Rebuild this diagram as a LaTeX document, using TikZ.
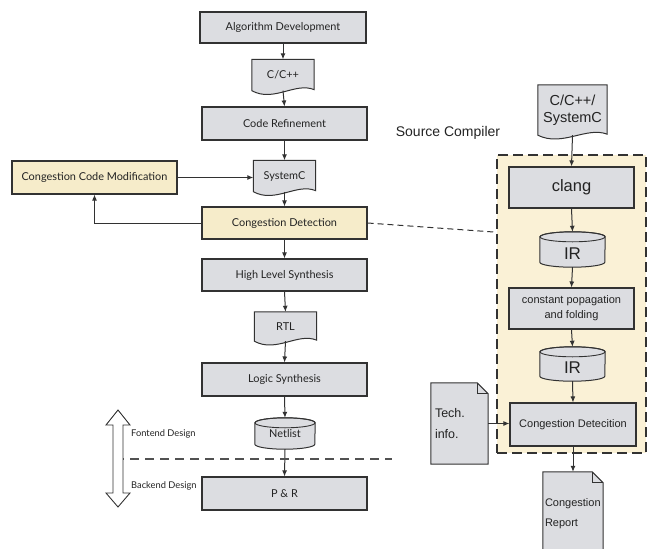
\documentclass[tikz,border=0pt]{standalone}
\usepackage{fontspec}
\setmainfont{Liberation Sans}
\newfontfamily\flowfont{Lato}
\usetikzlibrary{arrows.meta,backgrounds,calc}

\definecolor{boxgrey}{RGB}{220,221,225}
\definecolor{boxyellow}{RGB}{246,236,202}
\definecolor{regionfill}{RGB}{250,241,214}
\definecolor{linecol}{RGB}{50,50,50}
\definecolor{textcol}{RGB}{35,35,35}

% document symbol with a wavy lower edge, drawn round the text node #1
\newcommand{\wavedoc}[1]{%
  \path[docline] (#1.north west) -- (#1.north east) -- ($(#1.south east)+(0pt,1pt)$)
    .. controls ($(#1.south east)!0.3!(#1.south west)+(0pt,9pt)$)
       and ($(#1.south east)!0.65!(#1.south west)+(0pt,-12pt)$) ..
    ($(#1.south west)+(0pt,0pt)$) -- cycle;}
% document symbol with a folded corner
\newcommand{\folddoc}[2]{%
  \path[docline] (#1.north west) -- ($(#1.north east)+(-#2,0pt)$) -- ($(#1.north east)+(0pt,-#2)$)
    -- (#1.south east) -- (#1.south west) -- cycle;
  \draw[linecol, line width=0.9pt] ($(#1.north east)+(-#2,0pt)$) -- ($(#1.north east)+(-#2,-#2)$)
    -- ($(#1.north east)+(0pt,-#2)$);}
% cylinder (data store) round the text node #1; #2 = half width, #3 = cap radius
\newcommand{\drum}[3]{%
  \path[docline] ($(#1.north west)+(0pt,-#3)$) -- ($(#1.south west)+(0pt,#3)$)
    arc[start angle=180, end angle=360, x radius=#2, y radius=#3]
    -- ($(#1.north east)+(0pt,-#3)$)
    arc[start angle=0, end angle=180, x radius=#2, y radius=#3] -- cycle;
  \draw[linecol, line width=0.9pt] ($(#1.north)+(0pt,-#3)$) ellipse[x radius=#2, y radius=#3];}

\begin{document}
\begin{tikzpicture}[x=1pt, y=-1pt,
  every node/.style={text=textcol},
  flowbox/.style={draw=linecol, line width=1.1pt, fill=boxgrey, minimum width=165pt,
    minimum height=32pt, inner sep=0pt, font=\flowfont\fontsize{10.9}{12}\selectfont},
  hotbox/.style={flowbox, fill=boxyellow},
  flowdoc/.style={minimum width=62pt, minimum height=31pt, inner sep=0pt,
    font=\flowfont\fontsize{10.9}{12}\selectfont},
  flowdrum/.style={minimum width=60pt, minimum height=31pt, inner sep=0pt,
    font=\flowfont\fontsize{10.9}{12}\selectfont},
  stepbox/.style={draw=linecol, line width=1.1pt, fill=boxgrey, minimum width=125pt,
    minimum height=41pt, inner sep=0pt, align=center},
  drumtext/.style={minimum width=65pt, inner sep=0pt, text depth=0pt,
    font=\fontsize{17}{19}\selectfont},
  docline/.style={draw=linecol, line width=1pt, fill=boxgrey},
  arr/.style={draw=linecol, line width=1pt, -{Latex[length=6pt,width=5pt]}},
  sidelabel/.style={font=\flowfont\fontsize{9.3}{11}\selectfont, anchor=west, inner sep=0pt}]

\useasboundingbox (0,0) rectangle (649,549);

% ---- design flow (left column) ----
\node[flowbox, minimum width=166pt, minimum height=31pt] (alg) at (283,27.5) {Algorithm Development};
\node[flowdoc] (cpp) at (283,75) {C/C++};
\node[flowbox, minimum height=33pt] (cref) at (284.5,123.5) {Code Refinement};
\node[flowdoc] (sysc) at (284.5,176) {SystemC};
\node[hotbox, minimum height=33pt] (ccm) at (94.5,177.5) {Congestion Code Modification};
\node[hotbox] (cdet) at (284.5,223) {Congestion Detection};
\node[flowbox] (hls) at (284.5,275) {High Level Synthesis};
\node[flowdoc, minimum height=29pt] (rtl) at (285.5,326.5) {RTL};
\node[flowbox, minimum height=33pt] (ls) at (284.5,379.5) {Logic Synthesis};
\node[flowdrum] (net) at (285,433.5) {Netlist};
\node[flowbox, minimum height=33pt] (pr) at (284.5,493.5) {P \& R};

\draw[arr] (alg.south) -- (cpp.north);
\draw[arr] (cpp.south) -- (cref.north);
\draw[arr] (cref.south) -- (sysc.north);
\draw[arr] (sysc.south) -- (cdet.north);
\draw[arr] (cdet.south) -- (hls.north);
\draw[arr] (hls.south) -- (rtl.north);
\draw[arr] (rtl.south) -- (ls.north);
\draw[arr] (ls.south) -- (net.north);
\draw[arr] (net.south) -- (pr.north);
\draw[arr] (ccm.east) -- (ccm.east -| sysc.west);
\draw[arr] (cdet.west) -| (ccm.south);

% frontend / backend split
\coordinate (splitL) at (115,459);
\coordinate (splitR) at (392,459);
\draw[linecol!85, line width=1.1pt, dash pattern=on 9pt off 6pt] (splitL) -- (splitR);
\path[draw=linecol, line width=0.9pt, fill=white]
  (118,410) -- (130,425) -- (123,425) -- (123,493) -- (130,493) -- (118,507)
  -- (106,493) -- (113,493) -- (113,425) -- (106,425) -- cycle;
\node[sidelabel] (fe) at (131,434) {Fontend Design};
\node[sidelabel] (be) at (131,486) {Backend Design};

% ---- source compiler (right) ----
\node[font=\fontsize{14}{16}\selectfont] (sctitle) at (448,133) {Source Compiler};
\node[minimum width=69pt, minimum height=50pt, inner sep=0pt, align=center,
  font=\fontsize{14.5}{17}\selectfont] (src) at (572.5,110) {C/C++/\\SystemC};
\node[stepbox, font=\fontsize{16.5}{18}\selectfont] (clang) at (571.5,187.5) {clang};
\node[drumtext, minimum height=35pt, text height=19pt] (ir1) at (572.5,249.5) {IR};
\node[stepbox, font=\fontsize{11}{15}\selectfont] (cpf) at (571.5,308.5) {constant popagation\\and folding};
\node[drumtext, minimum height=34pt, text height=19pt] (ir2) at (572.5,364) {IR};
\node[stepbox, minimum width=126pt, minimum height=43pt, font=\fontsize{11}{13}\selectfont] (cdr) at (573,424.5) {Congestion Detecition};
\node[minimum width=57pt, minimum height=81pt, inner sep=0pt, align=left,
  font=\fontsize{12.5}{21}\selectfont, text width=49pt] (tech) at (459.5,423.5) {Tech.\\info.};
\node[minimum width=60pt, minimum height=84pt, inner sep=0pt, align=left,
  font=\fontsize{11}{20}\selectfont, text width=56pt] (rep) at (573,514) {Congestion\\Report};

\draw[arr] (src.south) -- (clang.north);
\draw[arr] (clang.south) -- (ir1.north);
\draw[arr] (ir1.south) -- (cpf.north);
\draw[arr] (cpf.south) -- (ir2.north);
\draw[arr] (ir2.south) -- (cdr.north);
\draw[arr] (tech.east) -- (tech.east -| cdr.west);
\draw[arr] (cdr.south) -- (rep.north);

\begin{scope}[on background layer]
  \node[draw=linecol, fill=regionfill, line width=1.2pt, dash pattern=on 10pt off 5pt,
    minimum width=149pt, minimum height=298pt, inner sep=0pt] (region) at (571.5,304) {};
  \coordinate (regionin) at ($(region.north west)!0.26!(region.south west)$);
  \draw[linecol, line width=1pt, dash pattern=on 6pt off 4pt] (cdet.east) -- (regionin);
  \wavedoc{cpp}
  \wavedoc{sysc}
  \wavedoc{rtl}
  \wavedoc{src}
  \drum{net}{30pt}{5pt}
  \drum{ir1}{32.5pt}{5pt}
  \drum{ir2}{32.5pt}{5pt}
  \folddoc{tech}{11pt}
  \folddoc{rep}{11pt}
\end{scope}
\end{tikzpicture}
\end{document}
